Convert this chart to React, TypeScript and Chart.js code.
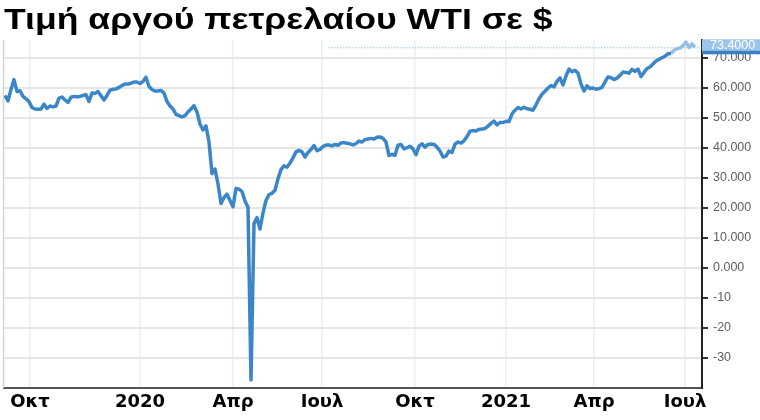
import { useEffect, useRef } from 'react';
import { Chart, registerables } from 'chart.js';

Chart.register(...registerables);

const titleText = 'Τιμή αργού πετρελαίου WTI σε $';

// WTI price samples, evenly spaced in time (Sep 2019 – Jul 2021)
const wtiPrices = [
  57.5, 55.7, 59.5, 62.8, 58.8, 59.1, 57.2, 56.4, 55.5, 53.5,
  53.0, 52.9, 53.0, 54.6, 53.2, 54.0, 53.7, 54.0, 56.6, 57.0,
  56.0, 55.2, 56.9, 57.2, 57.1, 57.2, 57.5, 57.8, 55.5, 58.3,
  58.2, 58.8, 57.4, 56.0, 57.5, 59.3, 59.6, 59.7, 60.2, 60.8,
  61.3, 61.3, 61.6, 62.0, 62.0, 61.5, 62.2, 63.6, 60.5, 59.5,
  59.0, 59.0, 59.2, 58.3, 55.5, 54.0, 53.0, 51.2, 50.8, 50.4,
  50.8, 52.0, 53.0, 54.1, 52.0, 48.0, 46.0, 47.4, 42.0, 31.5,
  33.0, 28.0, 21.5, 23.5, 24.6, 22.5, 20.4, 26.5, 26.3, 25.5,
  22.3, 20.3, -37.3, 14.8, 16.8, 13.0, 18.4, 22.5, 24.5, 24.9,
  25.9, 29.8, 32.8, 34.1, 33.6, 35.0, 36.7, 38.7, 39.2, 38.7,
  37.0, 38.5, 39.5, 40.8, 39.1, 39.5, 40.5, 41.0, 41.0, 40.7,
  41.2, 40.9, 41.7, 41.8, 41.6, 41.4, 41.0, 41.5, 42.3, 42.0,
  42.8, 43.0, 43.2, 43.0, 43.6, 43.7, 43.2, 42.0, 37.5, 37.9,
  37.6, 40.9, 41.2, 39.7, 40.1, 40.6, 39.7, 37.8, 40.6, 41.4,
  40.3, 41.2, 41.3, 41.2, 40.3, 39.0, 37.0, 37.3, 39.0, 38.5,
  41.3, 42.0, 41.6, 42.4, 43.8, 45.6, 45.8, 45.7, 46.2, 46.3,
  46.5, 47.3, 48.2, 49.0, 47.7, 48.5, 48.5, 48.9, 48.8, 51.4,
  52.6, 53.5, 53.0, 53.6, 53.1, 52.9, 52.6, 54.4, 56.4, 57.9,
  58.9, 60.0, 60.8, 60.4, 62.2, 63.4, 61.0, 64.0, 66.3, 65.4,
  65.9, 64.9, 61.3, 59.0, 60.7, 59.8, 60.0, 59.6, 59.8, 60.2,
  62.0, 63.7, 63.4, 62.8, 63.3, 64.2, 65.3, 65.2, 64.9, 66.2,
  65.6, 66.3, 63.8, 65.2, 66.5, 67.0, 68.0, 69.0, 69.6, 70.1,
  70.6, 71.4, 71.5, 72.6, 73.1, 73.3, 74.1, 75.3, 73.5, 74.7,
  73.7,
];
const recentFrom = 222; // samples from here on drawn in the lighter colour

const xTickPositions = [8.33, 45, 76, 105.67, 136.67, 167, 196.33, 226.67];
const xTickLabels = ['Οκτ', '2020', 'Απρ', 'Ιουλ', 'Οκτ', '2021', 'Απρ', 'Ιουλ'];

const yTickValues = [70, 60, 50, 40, 30, 20, 10, 0, -10, -20, -30];
const yTickLabels = ['70.000', '60.000', '50.000', '40.000', '30.000', '20.000', '10.000', '0.000', '-10', '-20', '-30'];

const lastPrice = 73.4;
const lastPriceLabel = '73.4000';

const decor = {
  id: 'decor',
  beforeDraw(chart: any) {
    const { ctx, width, height } = chart;
    ctx.save();
    ctx.fillStyle = '#ffffff';
    ctx.fillRect(0, 0, width, height);
    ctx.restore();
  },
  beforeDatasetsDraw(chart: any) {
    const { ctx, chartArea, scales } = chart;
    const py = scales.y.getPixelForValue(lastPrice);
    ctx.save();
    // left plot border
    ctx.strokeStyle = '#d4d4d4';
    ctx.lineWidth = 1.5;
    ctx.beginPath();
    ctx.moveTo(chartArea.left - 0.5, chartArea.top);
    ctx.lineTo(chartArea.left - 0.5, chartArea.bottom);
    ctx.stroke();
    // dotted last-price line
    ctx.strokeStyle = '#9cc3e6';
    ctx.lineWidth = 1;
    ctx.setLineDash([1.5, 1.5]);
    ctx.beginPath();
    ctx.moveTo(328, py);
    ctx.lineTo(chartArea.right, py);
    ctx.stroke();
    ctx.restore();
  },
  afterDraw(chart: any) {
    const { ctx, chartArea, scales, width } = chart;
    const py = scales.y.getPixelForValue(lastPrice);
    ctx.save();
    // price boxes
    ctx.fillStyle = '#3a80c4';
    ctx.fillRect(chartArea.right, py - 6.5, width - chartArea.right, 13);
    ctx.fillStyle = '#9cc5ea';
    ctx.fillRect(chartArea.right, py - 8.5, width - chartArea.right, 11.5);
    ctx.fillStyle = '#ffffff';
    ctx.font = '12.5px "Liberation Sans", Arial, sans-serif';
    ctx.textBaseline = 'middle';
    ctx.textAlign = 'left';
    ctx.fillText(lastPriceLabel, chartArea.right + 8, py - 2.5);
    // title
    ctx.font = 'bold 30px "Liberation Sans", Arial, sans-serif';
    const partW = ctx.measureText('Τιμή αργού πετρελαίο').width;
    const sx = 372 / partW;
    ctx.fillStyle = '#000000';
    ctx.textBaseline = 'alphabetic';
    ctx.translate(4, 28.5);
    ctx.scale(sx, 1);
    ctx.fillText(titleText, 0, 0);
    ctx.restore();
  },
};

export default function App() {
  const canvasRef = useRef<HTMLCanvasElement | null>(null);

  useEffect(() => {
    const canvas = canvasRef.current;
    if (!canvas) return;
    const darkData = wtiPrices.slice(0, recentFrom + 1).map((v, i) => ({ x: i, y: v }));
    const lightData = wtiPrices.slice(recentFrom).map((v, k) => ({ x: recentFrom + k, y: v }));
    const chart = new Chart(canvas, {
      type: 'line',
      data: {
        datasets: [
          {
            data: darkData,
            borderColor: '#3b86c8',
            borderWidth: 3.5,
            pointRadius: 0,
            tension: 0,
            borderJoinStyle: 'round',
            fill: false,
          },
          {
            data: lightData,
            borderColor: '#93bfe6',
            borderWidth: 3.5,
            pointRadius: 0,
            tension: 0,
            borderJoinStyle: 'round',
            fill: false,
          },
        ],
      },
      options: {
        animation: false,
        responsive: false,
        devicePixelRatio: 1,
        layout: { padding: { top: 40, left: 4, right: 0, bottom: 0 } },
        plugins: {
          legend: { display: false },
          tooltip: { enabled: false },
          title: { display: false },
        },
        scales: {
          x: {
            type: 'linear',
            min: -0.33,
            max: 232.33,
            afterBuildTicks: (s: any) => {
              s.ticks = xTickPositions.map((v) => ({ value: v }));
            },
            afterFit: (s: any) => {
              s.height = 32;
            },
            grid: { color: '#e8f0f9', lineWidth: 1.5, drawTicks: false },
            border: { display: true, color: '#555555', width: 2 },
            ticks: {
              autoSkip: false,
              maxRotation: 0,
              padding: 4,
              color: '#000000',
              font: { family: '"DejaVu Sans", Verdana, sans-serif', size: 18, weight: 'bold' },
              callback: (_v: any, i: number) => xTickLabels[i] ?? '',
            },
          },
          y: {
            position: 'right',
            min: -40,
            max: 76,
            afterBuildTicks: (s: any) => {
              s.ticks = yTickValues.map((v) => ({ value: v }));
            },
            afterFit: (s: any) => {
              s.width = 58;
            },
            grid: { color: '#e6e6e6', lineWidth: 2, tickColor: '#333333', tickLength: 6, tickWidth: 2 },
            border: { display: true, color: '#222222', width: 2 },
            ticks: {
              padding: 5,
              color: '#606060',
              font: { family: '"Liberation Sans", Arial, sans-serif', size: 12.5 },
              callback: (_v: any, i: number) => yTickLabels[i] ?? '',
            },
          },
        },
      } as any,
      plugins: [decor],
    });
    return () => chart.destroy();
  }, []);

  return (
    <div style={{ position: 'absolute', left: 0, top: 0, width: 760, height: 420 }}>
      <canvas ref={canvasRef} width={760} height={420} style={{ display: 'block' }} />
    </div>
  );
}
